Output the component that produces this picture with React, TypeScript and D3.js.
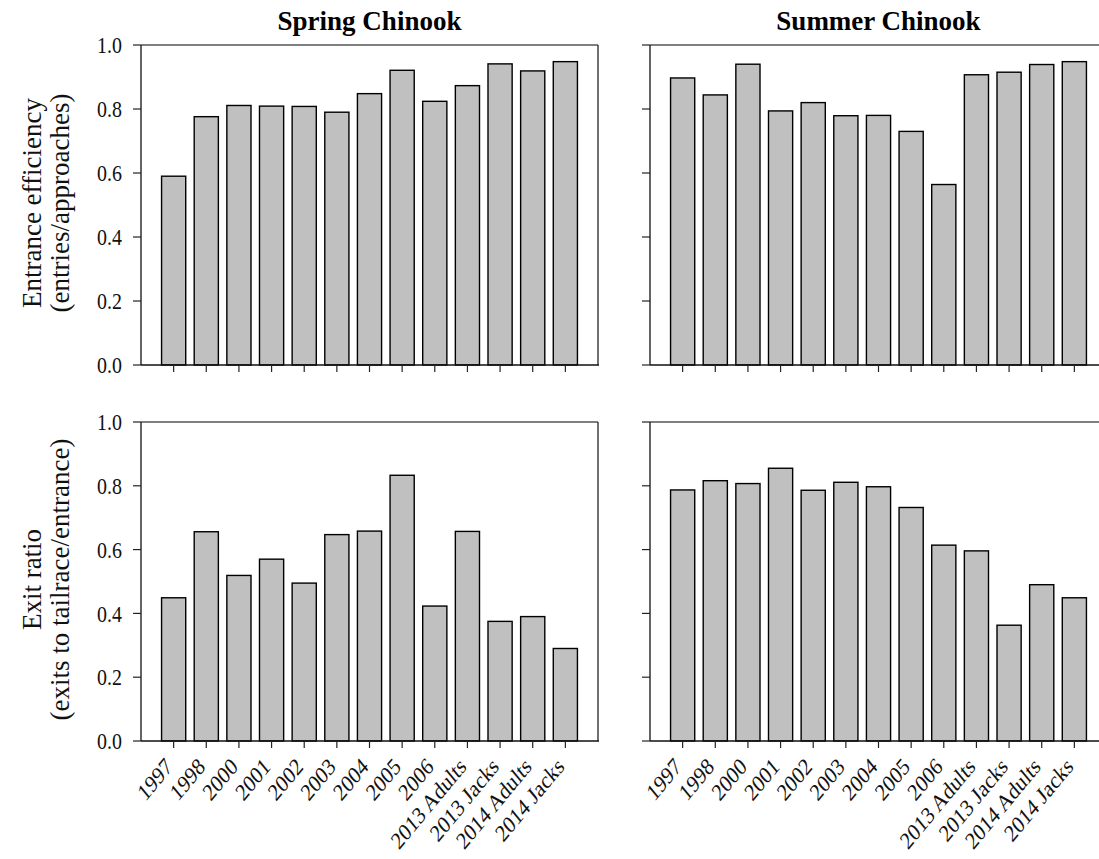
import React from "react";
import * as d3 from "d3";

const categories = ["1997", "1998", "2000", "2001", "2002", "2003", "2004", "2005", "2006", "2013 Adults", "2013 Jacks", "2014 Adults", "2014 Jacks"];
const springEntrance = [0.590, 0.776, 0.811, 0.809, 0.808, 0.790, 0.848, 0.921, 0.824, 0.873, 0.941, 0.919, 0.948];
const summerEntrance = [0.897, 0.844, 0.940, 0.794, 0.820, 0.779, 0.780, 0.730, 0.564, 0.907, 0.915, 0.939, 0.948];
const springExit = [0.449, 0.656, 0.519, 0.570, 0.495, 0.647, 0.658, 0.833, 0.423, 0.657, 0.375, 0.390, 0.290];
const summerExit = [0.787, 0.816, 0.807, 0.855, 0.786, 0.811, 0.797, 0.732, 0.614, 0.596, 0.363, 0.490, 0.449];
const yTicks = [0, 0.2, 0.4, 0.6, 0.8, 1.0];
const titles = ["Spring Chinook", "Summer Chinook"];
const yLabels = [["Entrance efficiency", "(entries/approaches)"], ["Exit ratio", "(exits to tailrace/entrance)"]];

const FONT = "'Liberation Serif', 'Times New Roman', serif";
const SX = 0.83;

type PanelProps = {
  values: number[];
  x0: number; x1: number; y0: number; y1: number;
  showYLabels: boolean; showXLabels: boolean;
};

function Panel({ values, x0, x1, y0, y1, showYLabels, showXLabels }: PanelProps) {
  const x = d3.scaleLinear().domain([0, categories.length + 1]).range([x0, x1]);
  const y = d3.scaleLinear().domain([0, 1]).range([y1, y0]);
  const step = x(1) - x(0);
  const bw = step * 0.74;
  return (
    <g>
      {values.map((v, i) => (
        <rect key={i} x={x(i + 1) - bw / 2} y={y(v)} width={bw} height={y(0) - y(v)}
          fill="#c0c0c0" stroke="#000" strokeWidth={1.4} />
      ))}
      <line x1={x0} x2={x1} y1={y0} y2={y0} stroke="#555" strokeWidth={1.4} />
      <line x1={x1} x2={x1} y1={y0} y2={y1} stroke="#333" strokeWidth={1.4} />
      <line x1={x0} x2={x0} y1={y0} y2={y1} stroke="#222" strokeWidth={1.4} />
      <line x1={x0} x2={x1 + 1} y1={y1} y2={y1} stroke="#111" strokeWidth={1.6} />
      {yTicks.map((t) => (
        <g key={t}>
          <line x1={x0 - 8} x2={x0} y1={y(t)} y2={y(t)} stroke="#222" strokeWidth={1.2} />
          {showYLabels && (
            <text transform={`translate(${x0 - 19},${y(t)}) scale(${SX},1)`} dy="0.34em" textAnchor="end"
              fontFamily={FONT} fontSize={24} fill="#111">
              {d3.format(".1f")(t)}
            </text>
          )}
        </g>
      ))}
      {categories.map((c, i) => (
        <g key={c}>
          <line x1={x(i + 1)} x2={x(i + 1)} y1={y1} y2={y1 + 7} stroke="#222" strokeWidth={1.2} />
          {showXLabels && (
            <text transform={`translate(${x(i + 1)},${y1 + 27}) scale(${SX},1) rotate(-45)`} textAnchor="end"
              fontFamily={FONT} fontSize={24} fill="#111">{c}</text>
          )}
        </g>
      ))}
    </g>
  );
}

export default function App() {
  const W = 1099, H = 859;
  const cols = [{ x0: 141, x1: 598 }, { x0: 650, x1: 1107 }];
  const rows = [{ y0: 45, y1: 365 }, { y0: 422, y1: 741 }];
  const data = [[springEntrance, summerEntrance], [springExit, summerExit]];
  return (
    <svg width={W} height={H} style={{ position: "absolute", left: 0, top: 0, background: "#fff" }}>
      <rect width={W} height={H} fill="#fff" />
      {titles.map((t, ci) => (
        <text key={t} x={(cols[ci].x0 + cols[ci].x1) / 2} y={30} textAnchor="middle"
          fontFamily={FONT} fontWeight="bold" fontSize={27} fill="#000">{t}</text>
      ))}
      {rows.map((r, ri) => (
        <g key={ri}>
          {cols.map((c, ci) => (
            <Panel key={ci} values={data[ri][ci]} x0={c.x0} x1={c.x1} y0={r.y0} y1={r.y1}
              showYLabels={ci === 0} showXLabels={ri === 1} />
          ))}
          <text transform={`translate(41,${(r.y0 + r.y1) / 2 - 2}) rotate(-90)`} textAnchor="middle"
            fontFamily={FONT} fontSize={27} fill="#111">{yLabels[ri][0]}</text>
          <text transform={`translate(69,${(r.y0 + r.y1) / 2 - 2}) rotate(-90)`} textAnchor="middle"
            fontFamily={FONT} fontSize={27} fill="#111">{yLabels[ri][1]}</text>
        </g>
      ))}
    </svg>
  );
}
